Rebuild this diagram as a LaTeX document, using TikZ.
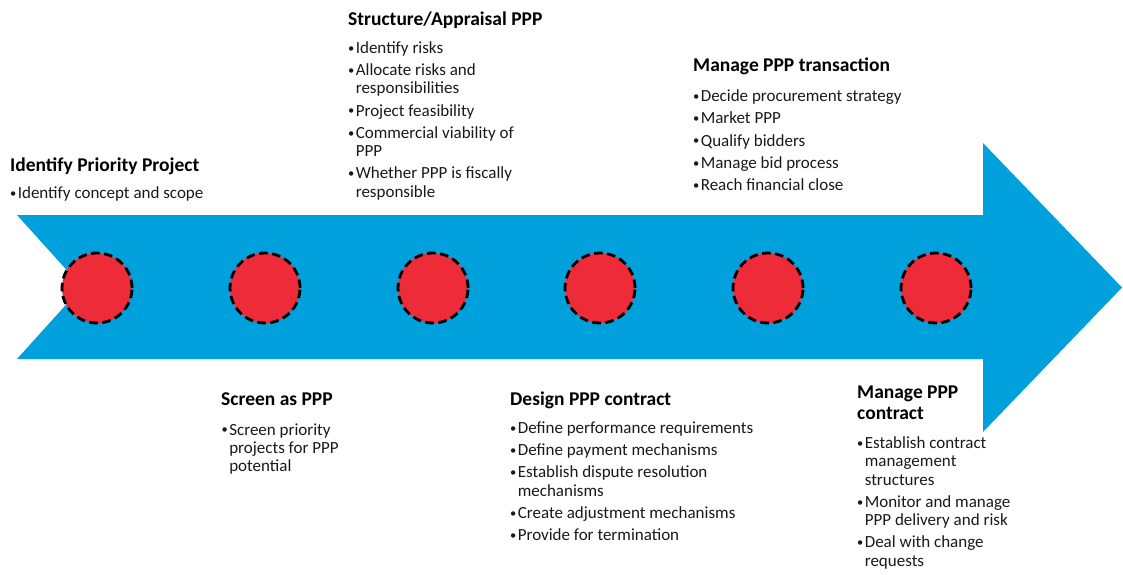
\documentclass[tikz,border=0pt]{standalone}
\usepackage{fontspec}
\setmainfont{Carlito}
\definecolor{arrowblue}{RGB}{0,160,221}
\definecolor{dotred}{RGB}{237,43,57}
\definecolor{txtgray}{RGB}{25,25,25}
\newcommand\Bl[1]{\hbox{\makebox[7.6pt][l]{\raisebox{1.3pt}{\fontsize{12.5pt}{12.5pt}\selectfont\textbullet}}#1}}
\newcommand\Cl[1]{\hbox{\hspace*{7.6pt}#1}}
\newcommand\Gp{\vskip3.8pt}
\newcommand\Blk[1]{\vtop{\baselineskip=18.4pt\lineskiplimit=-100pt\lineskip=0pt\relax #1}}
\newcommand\Ttl[1]{\vtop{\baselineskip=21pt\lineskiplimit=-100pt\lineskip=0pt\relax #1}}
\begin{document}
\begin{tikzpicture}[x=1pt,y=-1pt,
  title/.style={anchor=base west,inner sep=0pt,font=\fontsize{19.5pt}{21pt}\selectfont\bfseries,text=black},
  body/.style={anchor=base west,inner sep=0pt,font=\fontsize{17pt}{18.4pt}\selectfont,text=txtgray},
  dot/.style={circle,fill=dotred,draw=black,line width=2.8pt,dash pattern=on 8.5pt off 4.6pt,minimum size=70pt,inner sep=0pt}]
\useasboundingbox (0,0) rectangle (1123,574);
% arrow
\fill[arrowblue] (17,215) -- (983,215) -- (983,143) -- (1122,287.5) -- (983,432) -- (983,359) -- (17,359) -- (82,287) -- cycle;
% dots
\foreach \i/\x in {1/97,2/265,3/433,4/600,5/768,6/936}
  \node[dot] (c\i) at (\x,288) {};
% texts
\node[title] (t1) at (10,171.7) {Identify Priority Project};
\node[body] (b1) at (10,198.3) {\Blk{\Bl{Identify concept and scope}}};

\node[title] (t2) at (348,25) {Structure/Appraisal PPP};
\node[body] (b2) at (348,53.3) {\Blk{\Bl{Identify risks}\Gp
  \Bl{Allocate risks and}\Cl{responsibilities}\Gp
  \Bl{Project feasibility}\Gp
  \Bl{Commercial viability of}\Cl{PPP}\Gp
  \Bl{Whether PPP is fiscally}\Cl{responsible}}};

\node[title] (t3) at (693,71.7) {Manage PPP transaction};
\node[body] (b3) at (693,101.7) {\Blk{\Bl{Decide procurement strategy}\Gp
  \Bl{Market PPP}\Gp
  \Bl{Qualify bidders}\Gp
  \Bl{Manage bid process}\Gp
  \Bl{Reach financial close}}};

\node[title] (t4) at (221,405) {Screen as PPP};
\node[body] (b4) at (221.5,435) {\Blk{\Bl{Screen priority}\Cl{projects for PPP}\Cl{potential}}};

\node[title] (t5) at (510,405) {Design PPP contract};
\node[body] (b5) at (510,433.3) {\Blk{\Bl{Define performance requirements}\Gp
  \Bl{Define payment mechanisms}\Gp
  \Bl{Establish dispute resolution}\Cl{mechanisms}\Gp
  \Bl{Create adjustment mechanisms}\Gp
  \Bl{Provide for termination}}};

\node[title] (t6) at (857,398.3) {\Ttl{\hbox{Manage PPP}\hbox{contract}}};
\node[body] (b6) at (857,448.3) {\Blk{\Bl{Establish contract}\Cl{management}\Cl{structures}\Gp
  \Bl{Monitor and manage}\Cl{PPP delivery and risk}\Gp
  \Bl{Deal with change}\Cl{requests}}};
\end{tikzpicture}
\end{document}
